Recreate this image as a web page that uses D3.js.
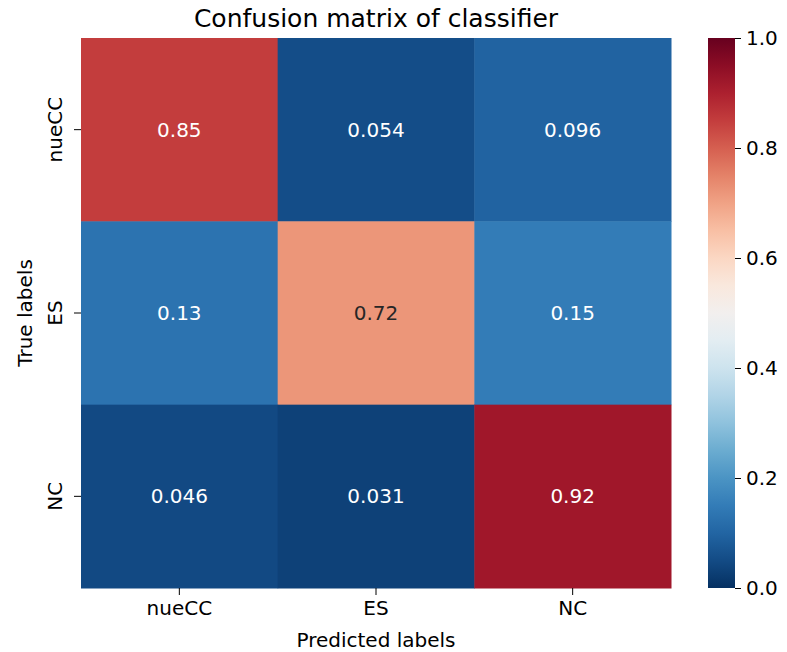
<!DOCTYPE html>
<html>
<head>
<meta charset="utf-8">
<script src="https://cdn.jsdelivr.net/npm/d3@7"></script>
<style>
  body { margin: 0; background: #fff; }
  text { font-family: "DejaVu Sans", sans-serif; }
</style>
</head>
<body>
<svg id="chart" width="787" height="652"></svg>
<script>
const predLabels = ['nueCC', 'ES', 'NC']
const trueLabels = ['nueCC', 'ES', 'NC']
const matrix = [
    [0.85, 0.054, 0.096],
    [0.13, 0.72, 0.15],
    [0.046, 0.031, 0.92]
]
const cellText = [
    ['0.85', '0.054', '0.096'],
    ['0.13', '0.72', '0.15'],
    ['0.046', '0.031', '0.92']
]
const barTicks = [0, 0.2, 0.4, 0.6, 0.8, 1.0]

const svg = d3.select('#chart')
const plot = { l: 81, r: 671, t: 38, b: 588 }
const bar = { l: 708, r: 735 }
const fs = '20px'

const color = v => d3.interpolateRdBu(1 - v)

const x = d3.scaleBand().domain(predLabels).range([plot.l, plot.r])
const y = d3.scaleBand().domain(trueLabels).range([plot.t, plot.b])

const cells = []
matrix.forEach((row, i) => row.forEach((v, j) => cells.push({ i, j, v, t: cellText[i][j] })))

svg.append('g').selectAll('rect')
    .data(cells)
    .enter()
    .append('rect')
    .attr('x', d => x(predLabels[d.j]))
    .attr('y', d => y(trueLabels[d.i]))
    .attr('width', x.bandwidth() + 0.5)
    .attr('height', y.bandwidth() + 0.5)
    .attr('fill', d => color(d.v))

svg.append('g').selectAll('text')
    .data(cells)
    .enter()
    .append('text')
    .attr('x', d => x(predLabels[d.j]) + x.bandwidth() / 2)
    .attr('y', d => y(trueLabels[d.i]) + y.bandwidth() / 2)
    .attr('dy', '0.35em')
    .attr('text-anchor', 'middle')
    .style('font-size', fs)
    .attr('fill', d => (d.v > 0.25 && d.v < 0.75) ? '#262626' : '#ffffff')
    .text(d => d.t)

// axes
const xAxis = svg.append('g')
    .attr('transform', `translate(0,${plot.b})`)
    .call(d3.axisBottom(x).tickSize(7).tickPadding(6))
xAxis.select('.domain').remove()
xAxis.selectAll('text').style('font-size', fs).attr('fill', '#000')

const yAxis = svg.append('g')
    .attr('transform', `translate(${plot.l},0)`)
    .call(d3.axisLeft(y).tickSize(7).tickPadding(0))
yAxis.select('.domain').remove()
yAxis.selectAll('text')
    .style('font-size', fs)
    .attr('fill', '#000')
    .attr('text-anchor', 'middle')
    .attr('dy', 0)
    .attr('x', 0)
    .attr('transform', 'translate(-19,0) rotate(-90)')

svg.append('text')
    .attr('x', (plot.l + plot.r) / 2)
    .attr('y', 27)
    .attr('text-anchor', 'middle')
    .style('font-size', '25px')
    .text('Confusion matrix of classifier')

svg.append('text')
    .attr('x', (plot.l + plot.r) / 2)
    .attr('y', 647)
    .attr('text-anchor', 'middle')
    .style('font-size', fs)
    .text('Predicted labels')

svg.append('text')
    .attr('transform', `translate(32,${(plot.t + plot.b) / 2}) rotate(-90)`)
    .attr('text-anchor', 'middle')
    .style('font-size', fs)
    .text('True labels')

// colorbar
const cScale = d3.scaleLinear().domain([0, 1]).range([plot.b, plot.t])
const defs = svg.append('defs')
const grad = defs.append('linearGradient')
    .attr('id', 'cbGrad')
    .attr('x1', 0).attr('y1', 1).attr('x2', 0).attr('y2', 0)
d3.range(0, 1.0001, 0.05).forEach(s => {
    grad.append('stop').attr('offset', s).attr('stop-color', color(s))
})
svg.append('rect')
    .attr('x', bar.l)
    .attr('y', plot.t)
    .attr('width', bar.r - bar.l)
    .attr('height', plot.b - plot.t)
    .attr('fill', 'url(#cbGrad)')

const cAxis = svg.append('g')
    .attr('transform', `translate(${bar.r},0)`)
    .call(d3.axisRight(cScale).tickValues(barTicks).tickFormat(d3.format('.1f')).tickSize(6).tickPadding(5))
cAxis.select('.domain').remove()
cAxis.selectAll('text').style('font-size', fs).attr('fill', '#000')
</script>
</body>
</html>
